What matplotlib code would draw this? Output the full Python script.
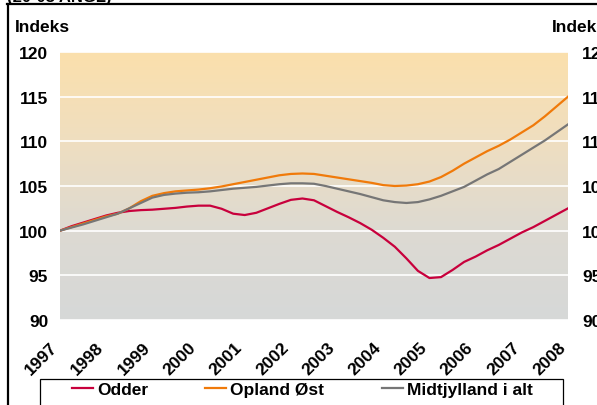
import numpy as np
import matplotlib
matplotlib.use("Agg")
import matplotlib.pyplot as plt
from matplotlib.lines import Line2D
from matplotlib.patches import Rectangle
from matplotlib.colors import LinearSegmentedColormap

plt.rcParams['font.family'] = ['Liberation Sans', 'DejaVu Sans']
plt.rcParams['font.weight'] = 'bold'

# quarterly time points 1997..2008
years = [1997, 1998, 1999, 2000, 2001, 2002, 2003, 2004, 2005, 2006, 2007, 2008]
t = [1997 + k / 4 for k in range(45)]

opland = [100, 100.4, 100.8, 101.2, 101.6, 101.9, 102.5, 103.3, 103.9, 104.2, 104.4, 104.5,
          104.6, 104.75, 104.95, 105.2, 105.45, 105.7, 105.95, 106.2, 106.35, 106.4, 106.35, 106.15,
          105.95, 105.75, 105.55, 105.35, 105.1, 105.0, 105.05, 105.2, 105.5, 106.0, 106.7, 107.5,
          108.2, 108.9, 109.5, 110.2, 111.0, 111.8, 112.8, 113.9, 115.0]
midt = [100, 100.35, 100.7, 101.1, 101.5, 101.9, 102.5, 103.1, 103.7, 104.0, 104.15, 104.25,
        104.3, 104.4, 104.55, 104.7, 104.8, 104.9, 105.05, 105.2, 105.3, 105.3, 105.25, 105.0,
        104.7, 104.4, 104.1, 103.75, 103.4, 103.2, 103.1, 103.2, 103.5, 103.9, 104.4, 104.9,
        105.6, 106.3, 106.9, 107.7, 108.5, 109.3, 110.1, 111.0, 111.9]
odder = [100, 100.5, 100.9, 101.3, 101.7, 102.0, 102.2, 102.3, 102.35, 102.45, 102.55, 102.7,
         102.8, 102.8, 102.45, 101.9, 101.75, 102.0, 102.5, 103.0, 103.45, 103.6, 103.4, 102.75,
         102.1, 101.5, 100.85, 100.1, 99.2, 98.2, 96.9, 95.5, 94.7, 94.8, 95.6, 96.5,
         97.1, 97.8, 98.4, 99.1, 99.8, 100.4, 101.1, 101.8, 102.5]

yticks = [90, 95, 100, 105, 110, 115, 120]

W, H = 597, 406
fig = plt.figure(figsize=(W / 100, H / 100), dpi=100)
fig.patch.set_facecolor('white')
L, R, T, B = 60, 568, 53, 321
ax = fig.add_axes([L / W, 1 - B / H, (R - L) / W, (B - T) / H])

cmap = LinearSegmentedColormap.from_list('bg', ['#FBE0AC', '#EFDEC0', '#DDDAD2', '#D6D8D8'])
grad = np.linspace(0, 1, 256).reshape(-1, 1)
ax.imshow(grad, cmap=cmap, aspect='auto', extent=[1997, 2008, 90, 120], origin='upper', zorder=0)

for yv in yticks:
    ax.axhline(yv, color='white', lw=1.2, zorder=1)

ax.plot(t, odder, color='#C8003C', lw=1.6, label='Odder', zorder=3)
ax.plot(t, opland, color='#F07A0A', lw=1.6, label='Opland Øst', zorder=3)
ax.plot(t, midt, color='#767676', lw=1.6, label='Midtjylland i alt', zorder=3)

ax.set_xlim(1997, 2008)
ax.set_ylim(90, 120)
for s in ax.spines.values():
    s.set_visible(False)
ax.set_yticks(yticks)
ax.set_yticklabels([str(v) for v in yticks], fontsize=12.5, fontweight='bold')
ax.tick_params(axis='y', length=0, pad=8.5)
ax.set_xticks([])
for y in years:
    ax.annotate(str(y), xy=(y, 90), xytext=(-10, -19), textcoords='offset pixels',
                rotation=45, ha='right', va='top', rotation_mode='anchor',
                fontsize=12.5, fontweight='bold', annotation_clip=False)

ax2 = ax.twinx()
ax2.set_ylim(90, 120)
for s in ax2.spines.values():
    s.set_visible(False)
ax2.set_yticks(yticks)
ax2.set_yticklabels([str(v) for v in yticks], fontsize=12.5, fontweight='bold')
ax2.tick_params(axis='y', length=0, pad=10)

fig.text(15 / W, 1 - 32 / H, 'Indeks', fontsize=12.5, fontweight='bold', va='baseline', ha='left')
fig.text(552 / W, 1 - 32 / H, 'Indeks', fontsize=12.5, fontweight='bold', va='baseline', ha='left')
fig.text(7 / W, 1 - 2 / H, '(20-08 ANGL)', fontsize=12, fontweight='bold', va='baseline', ha='left')

# frame
fig.add_artist(Line2D([7 / W, 1], [1 - 5 / H, 1 - 5 / H], transform=fig.transFigure, color='black', lw=1.6))
fig.add_artist(Line2D([8 / W, 8 / W], [0, 1 - 5 / H], transform=fig.transFigure, color='black', lw=1.6))

# legend box
fig.add_artist(Rectangle((40 / W, -0.05), 523 / W, 0.05 + (406 - 380) / H, transform=fig.transFigure,
                         fill=False, edgecolor='black', lw=0.9))
leg = fig.legend(loc='upper left', bbox_to_anchor=(70 / W, 1 - 381 / H),
                 ncol=3, fontsize=12.5, frameon=False, handlelength=1.2, handletextpad=0.25,
                 columnspacing=3.3, borderpad=0.1, borderaxespad=0)
for txt in leg.get_texts():
    txt.set_fontweight('bold')

fig.savefig('out.png', dpi=100)
